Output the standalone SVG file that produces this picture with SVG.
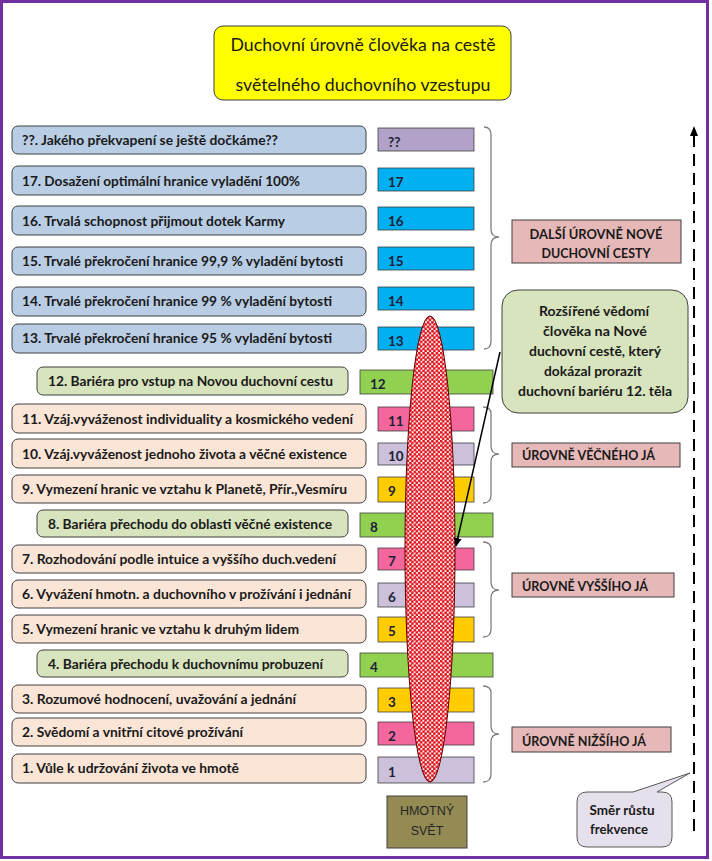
<svg xmlns="http://www.w3.org/2000/svg" width="712" height="861" viewBox="0 0 712 861">
<style>
.lbl{font-family:Lato,"Open Sans","DejaVu Sans",sans-serif;font-weight:bold;font-size:13.5px;fill:#1a1a1a}
.num{font-family:Lato,"Open Sans","DejaVu Sans",sans-serif;font-weight:bold;font-size:13.5px;fill:#1c2138}
.ttl{font-family:Lato,"Open Sans","DejaVu Sans",sans-serif;font-size:16.5px;fill:#1a1a1a}
.box{stroke:#404040;stroke-width:1}
.blu{fill:#B9CDE5}
.pch{fill:#FBE5D6}
.grn{fill:#D7E4BD}
.nb{stroke:#404040;stroke-width:0.8}
.brace{fill:none;stroke:#808080;stroke-width:1.3}
.rl{fill:#E6B9B8;stroke:#404040;stroke-width:1}
</style>
<defs>
<pattern id="dots" width="4.4" height="4.4" patternUnits="userSpaceOnUse">
<rect width="4.4" height="4.4" fill="#FFF4F4"/>
<circle cx="1.1" cy="1.1" r="1.45" fill="#E0101A"/>
<circle cx="3.3" cy="3.3" r="1.45" fill="#E0101A"/>
</pattern>
<marker id="ah" markerWidth="10" markerHeight="10" refX="8" refY="5" orient="auto" markerUnits="userSpaceOnUse">
<path d="M0,1 L9,5 L0,9 Z" fill="#000"/>
</marker>
</defs>
<rect x="0" y="0" width="712" height="861" fill="#FFFFFF"/>
<rect x="1.5" y="1.5" width="706" height="856" fill="none" stroke="#7030A0" stroke-width="3"/>

<g id="title">
<rect x="214" y="26" width="297" height="74" rx="9" fill="#FFFF00" stroke="#404040" stroke-width="1"/>
<text class="ttl" x="363" y="51" text-anchor="middle" textLength="265" lengthAdjust="spacingAndGlyphs">Duchovní úrovně člověka na cestě</text>
<text class="ttl" x="363" y="91" text-anchor="middle" textLength="255" lengthAdjust="spacingAndGlyphs">světelného duchovního vzestupu</text>
</g>

<g id="row-qq">
<rect class="box blu" x="12" y="126" width="354" height="28" rx="6"/>
<text class="lbl" x="22" y="145" textLength="256" lengthAdjust="spacingAndGlyphs">??. Jakého překvapení se ještě dočkáme??</text>
<rect class="nb" x="378" y="128" width="96" height="23" fill="#B3A2C7"/>
<text class="num" x="388" y="146.5">??</text>
</g>
<g id="row-17">
<rect class="box blu" x="12" y="166" width="354" height="29" rx="6"/>
<text class="lbl" x="22" y="185.5" textLength="278" lengthAdjust="spacingAndGlyphs">17. Dosažení optimální hranice vyladění 100%</text>
<rect class="nb" x="378" y="168" width="96" height="23" fill="#00B0F0"/>
<text class="num" x="388" y="186.5">17</text>
</g>
<g id="row-16">
<rect class="box blu" x="12" y="206" width="354" height="29" rx="6"/>
<text class="lbl" x="22" y="225.5" textLength="263" lengthAdjust="spacingAndGlyphs">16. Trvalá schopnost přijmout dotek Karmy</text>
<rect class="nb" x="378" y="207" width="96" height="23" fill="#00B0F0"/>
<text class="num" x="388" y="225.5">16</text>
</g>
<g id="row-15">
<rect class="box blu" x="12" y="247" width="354" height="28" rx="6"/>
<text class="lbl" x="22" y="266" textLength="321" lengthAdjust="spacingAndGlyphs">15. Trvalé překročení hranice 99,9 % vyladění bytosti</text>
<rect class="nb" x="378" y="247" width="96" height="23" fill="#00B0F0"/>
<text class="num" x="388" y="265.5">15</text>
</g>
<g id="row-14">
<rect class="box blu" x="12" y="287" width="354" height="29" rx="6"/>
<text class="lbl" x="22" y="306" textLength="310" lengthAdjust="spacingAndGlyphs">14. Trvalé překročení hranice 99 % vyladění bytosti</text>
<rect class="nb" x="378" y="287" width="96" height="23" fill="#00B0F0"/>
<text class="num" x="388" y="305.5">14</text>
</g>
<g id="row-13">
<rect class="box blu" x="12" y="324" width="354" height="29" rx="6"/>
<text class="lbl" x="22" y="343" textLength="310" lengthAdjust="spacingAndGlyphs">13. Trvalé překročení hranice 95 % vyladění bytosti</text>
<rect class="nb" x="378" y="327" width="96" height="23" fill="#00B0F0"/>
<text class="num" x="388" y="345.5">13</text>
</g>
<g id="row-12">
<rect class="box grn" x="37" y="367" width="311" height="28" rx="6"/>
<text class="lbl" x="48" y="386" textLength="285" lengthAdjust="spacingAndGlyphs">12. Bariéra pro vstup na Novou duchovní cestu</text>
<rect class="nb" x="360" y="370" width="133" height="24" fill="#92D050"/>
<text class="num" x="370" y="388.5">12</text>
</g>
<g id="row-11">
<rect class="box pch" x="12" y="404" width="354" height="29" rx="6"/>
<text class="lbl" x="22" y="424" textLength="331" lengthAdjust="spacingAndGlyphs">11. Vzáj.vyváženost individuality a kosmického vedení</text>
<rect class="nb" x="378" y="407" width="96" height="24" fill="#F4679D"/>
<text class="num" x="388" y="426">11</text>
</g>
<g id="row-10">
<rect class="box pch" x="12" y="439" width="354" height="29" rx="6"/>
<text class="lbl" x="22" y="459" textLength="325" lengthAdjust="spacingAndGlyphs">10. Vzáj.vyváženost jednoho života a věčné existence</text>
<rect class="nb" x="378" y="443" width="96" height="22" fill="#CCC0DA"/>
<text class="num" x="388" y="460.5">10</text>
</g>
<g id="row-9">
<rect class="box pch" x="12" y="475" width="354" height="28" rx="6"/>
<text class="lbl" x="22" y="494" textLength="325" lengthAdjust="spacingAndGlyphs">9. Vymezení hranic ve vztahu k Planetě, Přír.,Vesmíru</text>
<rect class="nb" x="378" y="477" width="96" height="25" fill="#FFCC00"/>
<text class="num" x="388" y="496">9</text>
</g>
<g id="row-8">
<rect class="box grn" x="37" y="510" width="311" height="27" rx="6"/>
<text class="lbl" x="48" y="529" textLength="284" lengthAdjust="spacingAndGlyphs">8. Bariéra přechodu do oblasti věčné existence</text>
<rect class="nb" x="360" y="513" width="133" height="24" fill="#92D050"/>
<text class="num" x="370" y="531.5">8</text>
</g>
<g id="row-7">
<rect class="box pch" x="12" y="545" width="354" height="28" rx="6"/>
<text class="lbl" x="22" y="564" textLength="314" lengthAdjust="spacingAndGlyphs">7. Rozhodování podle intuice a vyššího duch.vedení</text>
<rect class="nb" x="378" y="548" width="96" height="22" fill="#F4679D"/>
<text class="num" x="388" y="565.5">7</text>
</g>
<g id="row-6">
<rect class="box pch" x="12" y="580" width="354" height="28" rx="6"/>
<text class="lbl" x="22" y="599" textLength="329" lengthAdjust="spacingAndGlyphs">6. Vyvážení hmotn. a duchovního v prožívání i jednání</text>
<rect class="nb" x="378" y="583" width="96" height="24" fill="#CCC0DA"/>
<text class="num" x="388" y="601.5">6</text>
</g>
<g id="row-5">
<rect class="box pch" x="12" y="615" width="354" height="28" rx="6"/>
<text class="lbl" x="22" y="634" textLength="277" lengthAdjust="spacingAndGlyphs">5. Vymezení hranic ve vztahu k druhým lidem</text>
<rect class="nb" x="378" y="617" width="96" height="25" fill="#FFCC00"/>
<text class="num" x="388" y="636">5</text>
</g>
<g id="row-4">
<rect class="box grn" x="37" y="650" width="311" height="27" rx="6"/>
<text class="lbl" x="48" y="669" textLength="275" lengthAdjust="spacingAndGlyphs">4. Bariéra přechodu k duchovnímu probuzení</text>
<rect class="nb" x="360" y="653" width="133" height="24" fill="#92D050"/>
<text class="num" x="370" y="671.5">4</text>
</g>
<g id="row-3">
<rect class="box pch" x="12" y="685" width="354" height="28" rx="6"/>
<text class="lbl" x="22" y="704" textLength="274" lengthAdjust="spacingAndGlyphs">3. Rozumové hodnocení, uvažování a jednání</text>
<rect class="nb" x="378" y="688" width="96" height="24" fill="#FFCC00"/>
<text class="num" x="388" y="706.5">3</text>
</g>
<g id="row-2">
<rect class="box pch" x="12" y="718" width="354" height="28" rx="6"/>
<text class="lbl" x="22" y="737" textLength="221" lengthAdjust="spacingAndGlyphs">2. Svědomí a vnitřní citové prožívání</text>
<rect class="nb" x="378" y="722" width="96" height="23" fill="#F4679D"/>
<text class="num" x="388" y="740.5">2</text>
</g>
<g id="row-1">
<rect class="box pch" x="12" y="754" width="354" height="29" rx="6"/>
<text class="lbl" x="22" y="773" textLength="217" lengthAdjust="spacingAndGlyphs">1. Vůle k udržování života ve hmotě</text>
<rect class="nb" x="378" y="757" width="96" height="26" fill="#CCC0DA"/>
<text class="num" x="388" y="776.5">1</text>
</g>

<g id="hmotny-svet">
<rect x="387" y="796" width="80" height="52" fill="#948A54" stroke="#404040" stroke-width="1"/>
<text x="427" y="815" text-anchor="middle" font-family="Liberation Sans,Arial,sans-serif" font-size="12.5" fill="#262626">HMOTNÝ</text>
<text x="427" y="835" text-anchor="middle" font-family="Liberation Sans,Arial,sans-serif" font-size="12.5" fill="#262626">SVĚT</text>
</g>

<g id="ellipse-consciousness">
<ellipse cx="430" cy="549" rx="25" ry="233" fill="url(#dots)" stroke="#600000" stroke-width="1"/>
</g>

<g id="braces">
<path class="brace" d="M484,127 Q491,127 491,135 L491,229 Q491,237 499,237 Q491,237 491,245 L491,341 Q491,349 484,349"/>
<path class="brace" d="M483,407 Q491,407 491,414 L491,446 Q491,454 499,454 Q491,454 491,462 L491,495 Q491,503 483,503"/>
<path class="brace" d="M483,542 Q491,542 491,549 L491,582 Q491,590 499,590 Q491,590 491,598 L491,629 Q491,637 483,637"/>
<path class="brace" d="M483,686 Q491,686 491,693 L491,726 Q491,734 499,734 Q491,734 491,742 L491,774 Q491,782 483,782"/>
</g>

<g id="label-dalsi">
<rect class="rl" x="512" y="220" width="169" height="43"/>
<text class="lbl" x="596" y="239" text-anchor="middle" textLength="133" lengthAdjust="spacingAndGlyphs">DALŠÍ ÚROVNĚ NOVÉ</text>
<text class="lbl" x="596" y="258" text-anchor="middle" textLength="109" lengthAdjust="spacingAndGlyphs">DUCHOVNÍ CESTY</text>
</g>
<g id="label-vecneho">
<rect class="rl" x="512" y="443" width="168" height="24"/>
<text class="lbl" x="522" y="460" textLength="133" lengthAdjust="spacingAndGlyphs">ÚROVNĚ VĚČNÉHO JÁ</text>
</g>
<g id="label-vyssiho">
<rect class="rl" x="512" y="573" width="162" height="24"/>
<text class="lbl" x="522" y="590.5" textLength="126" lengthAdjust="spacingAndGlyphs">ÚROVNĚ VYŠŠÍHO JÁ</text>
</g>
<g id="label-nizsiho">
<rect class="rl" x="512" y="727" width="159" height="25"/>
<text class="lbl" x="522" y="745.5" textLength="124" lengthAdjust="spacingAndGlyphs">ÚROVNĚ NIŽŠÍHO JÁ</text>
</g>

<g id="callout-rozsirene">
<rect x="502" y="290" width="186" height="123" rx="16" fill="#D7E4BD" stroke="#404040" stroke-width="1"/>
<text class="lbl" x="594" y="316" text-anchor="middle" textLength="110" lengthAdjust="spacingAndGlyphs">Rozšířené vědomí</text>
<text class="lbl" x="595" y="336" text-anchor="middle" textLength="104" lengthAdjust="spacingAndGlyphs">člověka na Nové</text>
<text class="lbl" x="595" y="356" text-anchor="middle" textLength="132" lengthAdjust="spacingAndGlyphs">duchovní cestě, který</text>
<text class="lbl" x="593" y="376" text-anchor="middle" textLength="98" lengthAdjust="spacingAndGlyphs">dokázal prorazit</text>
<text class="lbl" x="595" y="396" text-anchor="middle" textLength="154" lengthAdjust="spacingAndGlyphs">duchovní bariéru 12. těla</text>
</g>

<g id="callout-smer">
<path d="M587,792 L633,792 L690,773 L657,792 L662,792 Q672,792 672,802 L672,837 Q672,847 662,847 L587,847 Q577,847 577,837 L577,802 Q577,792 587,792 Z" fill="#E6E0EC" stroke="#595959" stroke-width="1"/>
<text class="lbl" x="622" y="815" text-anchor="middle" textLength="65" lengthAdjust="spacingAndGlyphs">Směr růstu</text>
<text class="lbl" x="619" y="834" text-anchor="middle" textLength="58" lengthAdjust="spacingAndGlyphs">frekvence</text>
</g>

<g id="connectors">
<line x1="500" y1="352" x2="456" y2="546" stroke="#000" stroke-width="1.5" marker-end="url(#ah)"/>
<line x1="694" y1="135" x2="694" y2="838" stroke="#000" stroke-width="2" stroke-dasharray="12 7"/>
<path d="M690,136 L694,126 L698,136 Z" fill="#000"/>
</g>
</svg>
